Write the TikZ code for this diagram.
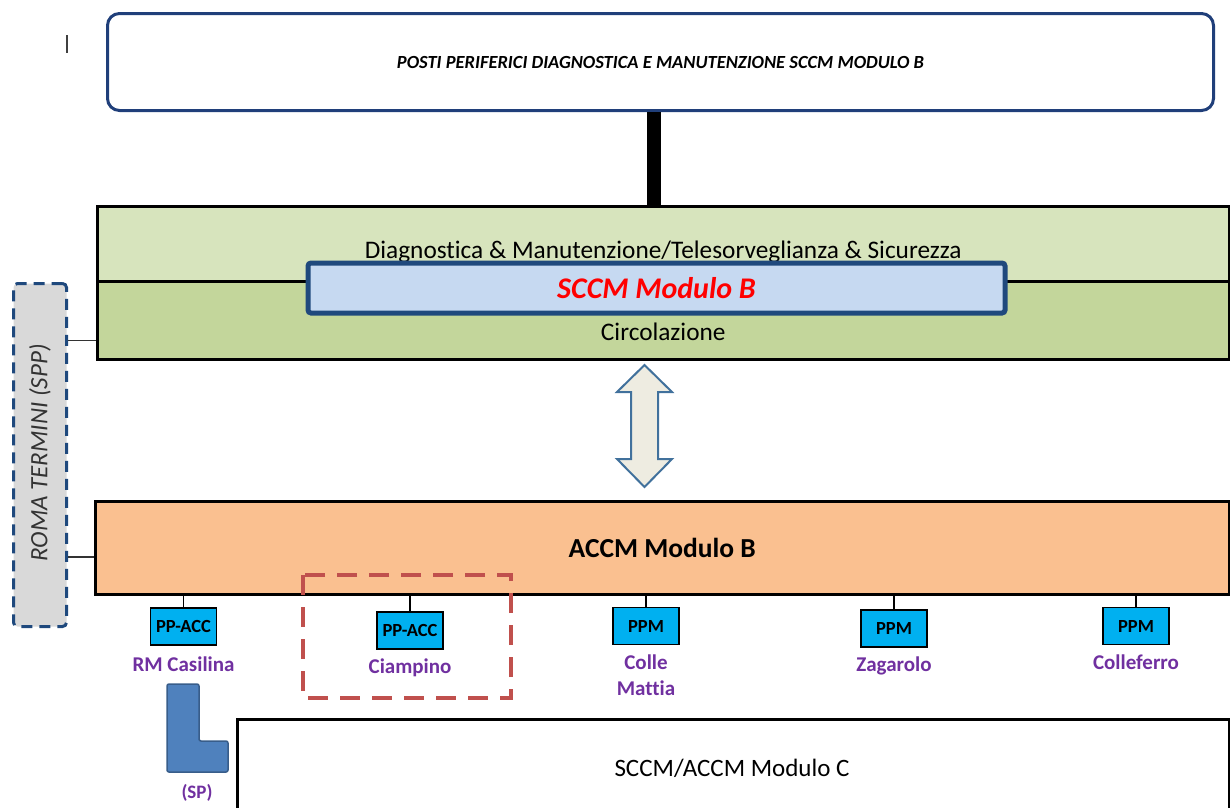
\documentclass[tikz,border=0pt]{standalone}
\usepackage{fontspec}
\setmainfont{Carlito}[Ligatures=NoCommon]
\usetikzlibrary{positioning,calc}

\definecolor{postiblue}{HTML}{203F7A}
\definecolor{greenlight}{HTML}{D7E4BD}
\definecolor{greendark}{HTML}{C3D69B}
\definecolor{sccmfill}{HTML}{C6D9F1}
\definecolor{sccmline}{HTML}{1F497D}
\definecolor{accmorange}{HTML}{FAC090}
\definecolor{ppcyan}{HTML}{00B0F0}
\definecolor{sitepurple}{HTML}{7030A0}
\definecolor{arrowfill}{HTML}{EEECE1}
\definecolor{arrowline}{HTML}{41719C}
\definecolor{romagrey}{HTML}{D9D9D9}
\definecolor{zonered}{HTML}{C0504D}
\definecolor{spblue}{HTML}{4F81BD}
\definecolor{spline}{HTML}{385D8A}

\begin{document}
\begin{tikzpicture}[x=1pt, y=-1pt,
    node distance=8pt,
    layer/.style={draw, line width=2.5pt, inner sep=0pt, anchor=north west},
    sitebox/.style={draw, line width=1.2pt, fill=ppcyan, minimum width=66pt, minimum height=37pt, inner sep=0pt, font=\bfseries\fontsize{18.5}{20}\selectfont},
    sitename/.style={text=sitepurple, align=center, inner sep=1pt, font=\bfseries\fontsize{21}{26}\selectfont},
    stub/.style={line width=1.5pt},
    txt/.style={inner sep=0pt, font=\fontsize{25.3}{28}\selectfont}
]
\clip (0,0) rectangle (1230,807);

% top: posti periferici
\node[draw=postiblue, line width=3pt, rounded corners=12pt, anchor=north west, minimum width=1106pt, minimum height=97pt, inner sep=0pt,
      font=\bfseries\itshape\fontsize{18.5}{20}\selectfont] (posti) at (106,12) {POSTI PERIFERICI DIAGNOSTICA E MANUTENZIONE SCCM MODULO B};
\draw[line width=1.5pt, black!75] (67,35) -- (67,53);

% SCCM modulo B (two layers)
\node[layer, fill=greenlight, minimum width=1132pt, minimum height=75pt] (dm) at (96,205) {};
\node[layer, fill=greendark, minimum width=1132pt, minimum height=78pt] (circ) at (96,280) {};
\node[txt] at ($(dm.center)+(0,8)$) {Diagnostica \& Manutenzione/Telesorveglianza \& Sicurezza};
\node[txt] at ($(circ.center)+(0,12)$) {Circolazione};
\node[draw=sccmline, fill=sccmfill, line width=5pt, rounded corners=3pt, minimum width=697pt, minimum height=50pt, inner sep=0pt,
      text=red, font=\bfseries\itshape\fontsize{30}{34}\selectfont] (sccm) at (656.5,288) {SCCM Modulo B};

% link posti -> SCCM
\draw[line width=14pt] ([xshift=-7pt]posti.south) -- ([xshift=-7pt]posti.south |- dm.north);

% ACCM modulo B
\node[layer, fill=accmorange, minimum width=1134pt, minimum height=93pt, font=\bfseries\fontsize{27.5}{30}\selectfont] (accm) at (94,500) {ACCM Modulo B};

% double block arrow
\coordinate (dbltip) at (644.5,365);
\draw[draw=arrowline, fill=arrowfill, line width=2pt, line join=miter]
    (dbltip) -- ++(27.5,27) -- ++(-14,0) -- ++(0,67) -- ++(14,0) -- ++(-27.5,28)
    -- ++(-27.5,-28) -- ++(14,0) -- ++(0,-67) -- ++(-14,0) -- cycle;

% Roma Termini
\node[draw=sccmline, fill=romagrey, line width=3pt, dash pattern=on 11pt off 7pt, rounded corners=4pt,
      anchor=north west, minimum width=53pt, minimum height=343pt, inner sep=0pt] (roma) at (12,282) {};
\node[rotate=90, text=black!80, font=\itshape\fontsize{25}{28}\selectfont] at ([yshift=2pt]roma.center) {ROMA TERMINI (SPP)};
\path ([yshift=20pt]circ.south west) coordinate (circ_in);
\path ([yshift=-9pt]accm.west) coordinate (accm_in);
\draw[stub, black!80] (roma.east |- circ_in) -- (circ_in);
\draw[stub, black!80] (roma.east |- accm_in) -- (accm_in);

% posti periferici ACC / PPM
\node[sitebox] (ppa1) at (183.5,626.5) {PP-ACC};
\node[sitebox] (ppa2) at (410,630.5) {PP-ACC};
\node[sitebox] (ppm1) at (646,626) {PPM};
\node[sitebox] (ppm2) at (894,628.5) {PPM};
\node[sitebox] (ppm3) at (1136,626) {PPM};
\foreach \s in {ppa1,ppa2,ppm1,ppm2,ppm3}
    \draw[stub] (\s.north) -- (\s.north |- accm.south);

\node[sitename, below=10pt of ppa1] (casilina) {RM Casilina};
\node[sitename, below=of ppa2] (ciampino) {Ciampino};
\node[sitename, below=of ppm1] (colle) {Colle\\Mattia};
\node[sitename, below=of ppm2] (zagarolo) {Zagarolo};
\node[sitename, below=of ppm3] (colleferro) {Colleferro};

% Ciampino zone
\draw[zonered, line width=4pt, dash pattern=on 20pt off 12pt] (303,575) rectangle (511,698);

% (SP) marker
\draw[fill=spblue, draw=spline, line width=1.5pt, rounded corners=2pt]
    (167,684) -- (199,684) -- (199,741) -- (228,741) -- (228,772) -- (167,772) -- cycle;
\node[sitename, font=\bfseries\fontsize{19}{22}\selectfont] (sp) at (197,793) {(SP)};

% SCCM/ACCM modulo C
\node[layer, minimum width=992pt, minimum height=120pt] (modc) at (236,718) {};
\node[txt, font=\fontsize{25}{28}\selectfont] at (732,768) {SCCM/ACCM Modulo C};
\end{tikzpicture}
\end{document}
